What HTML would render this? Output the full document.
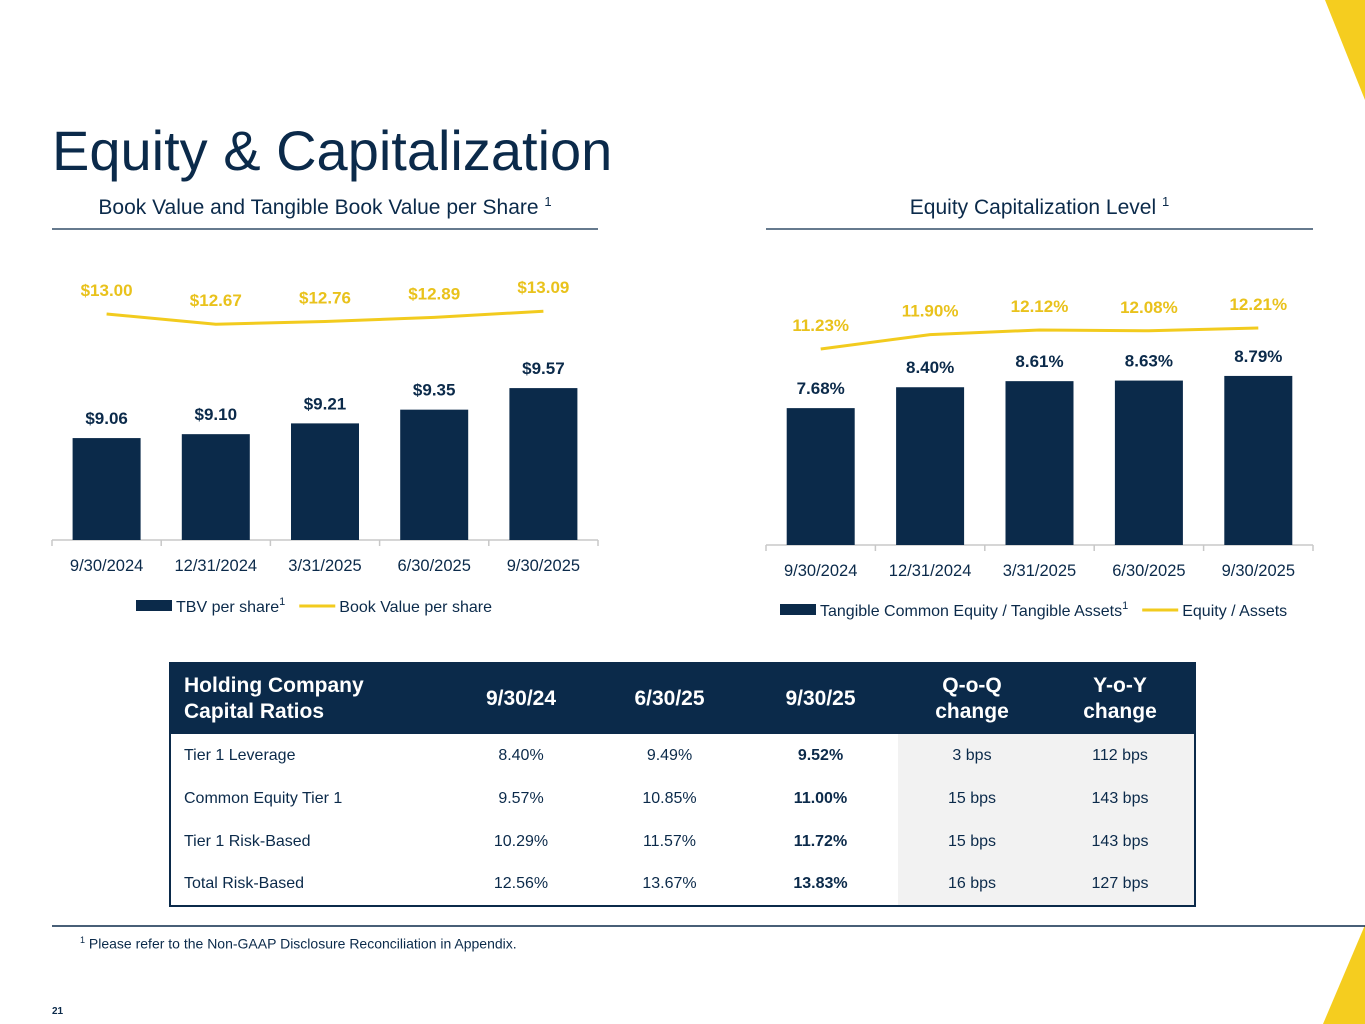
<!DOCTYPE html>
<html><head><meta charset="utf-8"><style>
body{margin:0;width:1365px;height:1024px;position:relative;background:#fff;font-family:"Liberation Sans",sans-serif;color:#0b2a4a;overflow:hidden}
.abs{position:absolute}
table{border-collapse:collapse;table-layout:fixed}
td{padding:0}
</style></head><body>
<svg class="abs" style="left:0;top:0" width="1365" height="1024">
<polygon points="1325,0 1365,0 1365,100" fill="#f5cd1f"/>
<polygon points="1365,925 1365,1024 1323,1024" fill="#f5cd1f"/>
<line x1="52" y1="229" x2="598" y2="229" stroke="#0b2a4a" stroke-width="1.2"/>
<line x1="766" y1="229" x2="1313" y2="229" stroke="#0b2a4a" stroke-width="1.2"/>
<line x1="52" y1="926" x2="1365" y2="926" stroke="#0b2a4a" stroke-width="1.5"/>
</svg>
<div class="abs" style="left:52px;top:116px;font-size:56px;line-height:70px">Equity &amp; Capitalization</div>
<div class="abs" style="left:52px;width:546px;text-align:center;top:194px;font-size:21px">Book Value and Tangible Book Value per Share <sup style="font-size:13px">1</sup></div>
<div class="abs" style="left:766px;width:547px;text-align:center;top:194px;font-size:21px">Equity Capitalization Level <sup style="font-size:13px">1</sup></div>

<svg class="abs" style="left:0;top:0" width="1365" height="660" id="charts"></svg>

<div class="abs" style="left:80px;top:935px;font-size:14px"><sup style="font-size:9px">1</sup> Please refer to the Non-GAAP Disclosure Reconciliation in Appendix.</div>
<div class="abs" style="left:52px;top:1006px;font-size:10px;font-weight:bold">21</div>

<table class="abs" style="left:169px;top:662px;width:1027px;border:2px solid #0b2a4a;font-size:16px">
<colgroup><col style="width:276px"><col style="width:150px"><col style="width:147px"><col style="width:155px"><col style="width:148px"><col></colgroup>
<tr style="background:#0b2a4a;color:#fff;font-weight:bold;font-size:21px;height:71px">
<td style="padding-left:13px;line-height:26px">Holding Company<br>Capital Ratios</td>
<td style="text-align:center">9/30/24</td><td style="text-align:center">6/30/25</td><td style="text-align:center">9/30/25</td>
<td style="text-align:center;line-height:26px">Q-o-Q<br>change</td><td style="text-align:center;line-height:26px">Y-o-Y<br>change</td></tr>
<tr style="height:43px"><td style="padding-left:13px">Tier 1 Leverage</td><td style="text-align:center">8.40%</td><td style="text-align:center">9.49%</td><td style="text-align:center;font-weight:bold">9.52%</td><td style="text-align:center;background:#f2f2f2">3 bps</td><td style="text-align:center;background:#f2f2f2">112 bps</td></tr>
<tr style="height:43px"><td style="padding-left:13px">Common Equity Tier 1</td><td style="text-align:center">9.57%</td><td style="text-align:center">10.85%</td><td style="text-align:center;font-weight:bold">11.00%</td><td style="text-align:center;background:#f2f2f2">15 bps</td><td style="text-align:center;background:#f2f2f2">143 bps</td></tr>
<tr style="height:43px"><td style="padding-left:13px">Tier 1 Risk-Based</td><td style="text-align:center">10.29%</td><td style="text-align:center">11.57%</td><td style="text-align:center;font-weight:bold">11.72%</td><td style="text-align:center;background:#f2f2f2">15 bps</td><td style="text-align:center;background:#f2f2f2">143 bps</td></tr>
<tr style="height:43px"><td style="padding-left:13px">Total Risk-Based</td><td style="text-align:center">12.56%</td><td style="text-align:center">13.67%</td><td style="text-align:center;font-weight:bold">13.83%</td><td style="text-align:center;background:#f2f2f2">16 bps</td><td style="text-align:center;background:#f2f2f2">127 bps</td></tr>
</table>

<script>
const categories=["9/30/2024","12/31/2024","3/31/2025","6/30/2025","9/30/2025"];
const tbvValues=[9.06,9.10,9.21,9.35,9.57];
const bvValues=[13.00,12.67,12.76,12.89,13.09];
const tceValues=[7.68,8.40,8.61,8.63,8.79];
const eqValues=[11.23,11.90,12.12,12.08,12.21];
const NAVY="#0b2a4a",GOLD="#e9c21c",LINE="#f2cb1e";
const svg=document.getElementById('charts');
const NS="http://www.w3.org/2000/svg";
function mk(tag,attrs,text){const e=document.createElementNS(NS,tag);for(const k in attrs)e.setAttribute(k,attrs[k]);if(text!==undefined)e.textContent=text;svg.appendChild(e);return e;}
function chart(o){
  const bw=(o.x1-o.x0)/categories.length;
  const xc=i=>o.x0+bw*(i+0.5);
  const yb=v=>o.base-(v-o.bMin)*o.bScale;
  const yl=v=>o.lRef-(v-o.lMin)*o.lScale;
  const ax=mk('line',{x1:o.x0,y1:o.base,x2:o.x1,y2:o.base,stroke:"#c8c8c8","stroke-width":1.5});
  
  for(let i=0;i<=categories.length;i++){const t=mk('line',{x1:o.x0+bw*i,y1:o.base,x2:o.x0+bw*i,y2:o.base+6,stroke:"#c8c8c8","stroke-width":1.5});}
  categories.forEach((c,i)=>{
    const y=yb(o.bars[i]);
    const r=mk('rect',{x:xc(i)-34,y:y,width:68,height:o.base-y,fill:NAVY});
    
    const t=mk('text',{x:xc(i),y:y-14,"text-anchor":"middle","font-size":17,"font-weight":"bold",fill:NAVY},o.bfmt(o.bars[i]));
    
    const l=mk('text',{x:xc(i),y:o.base+31,"text-anchor":"middle","font-size":16.5,fill:NAVY},c);
    
    const lt=mk('text',{x:xc(i),y:yl(o.line[i])-18,"text-anchor":"middle","font-size":17,"font-weight":"bold",fill:GOLD},o.lfmt(o.line[i]));
    
  });
  const p=mk('polyline',{points:o.line.map((v,i)=>xc(i)+','+yl(v)).join(' '),fill:"none",stroke:LINE,"stroke-width":3});
  
}
chart({id:'bv',x0:52,x1:598,base:540,bMin:8.02,bScale:98,lRef:314,lMin:13.0,lScale:31,bars:tbvValues,line:bvValues,bfmt:v=>'$'+v.toFixed(2),lfmt:v=>'$'+v.toFixed(2)});
chart({id:'eq',x0:766,x1:1313,base:545,bMin:2.96,bScale:29,lRef:349,lMin:11.23,lScale:21.4,bars:tceValues,line:eqValues,bfmt:v=>v.toFixed(2)+'%',lfmt:v=>v.toFixed(2)+'%'});
function legend(x,y,items){
  let cx=x;
  items.forEach(it=>{
    let m;
    if(it.bar)m=mk('rect',{x:cx,y:y-6,width:36,height:11,fill:NAVY});
    else m=mk('line',{x1:cx,y1:y,x2:cx+36,y2:y,stroke:LINE,"stroke-width":3});
    
    const t=mk('text',{x:cx+40,y:y+6,"font-size":16,fill:NAVY},it.label);
    
    if(it.sup){const s=document.createElementNS(NS,'tspan');s.setAttribute('dy','-7');s.setAttribute('font-size','11');s.textContent=it.sup;t.appendChild(s);}
    cx+=40+t.getComputedTextLength()+14;
  });
}
legend(136,606,[{bar:true,label:'TBV per share',sup:'1'},{bar:false,label:'Book Value per share'}]);
legend(780,610,[{bar:true,label:'Tangible Common Equity / Tangible Assets',sup:'1'},{bar:false,label:'Equity / Assets'}]);
</script>
</body></html>
